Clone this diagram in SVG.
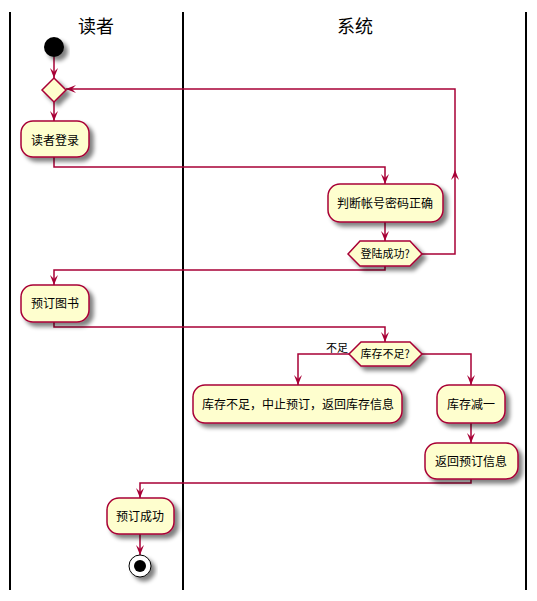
<svg xmlns="http://www.w3.org/2000/svg" width="537" height="601" viewBox="0 0 537 601">
<style>
.lane{stroke:#000;stroke-width:2;fill:none}
.title{font-family:"Noto Sans CJK SC","Liberation Sans",sans-serif;font-size:18px;fill:#000;text-anchor:middle}
.box{fill:#FEFECE;stroke:#A80036;stroke-width:1.5}
.t{font-family:"Noto Sans CJK SC","Liberation Sans",sans-serif;font-size:12px;fill:#000;text-anchor:middle}
.ts{font-family:"Noto Sans CJK SC","Liberation Sans",sans-serif;font-size:11px;fill:#000;text-anchor:middle}
.c{fill:none;stroke:#A80036;stroke-width:1.5}
</style>
<defs>
<filter id="sh" x="-20%" y="-20%" width="150%" height="160%">
<feGaussianBlur in="SourceAlpha" stdDeviation="2"/>
<feOffset dx="4" dy="4" result="o"/>
<feComponentTransfer><feFuncA type="linear" slope="0.5"/></feComponentTransfer>
<feMerge><feMergeNode/><feMergeNode in="SourceGraphic"/></feMerge>
</filter>
<marker id="ah" viewBox="0 0 10 8" refX="10" refY="4" markerWidth="10" markerHeight="8" markerUnits="userSpaceOnUse" orient="auto">
<path d="M0,0 L10,4 L0,8 L4,4 Z" fill="#A80036"/>
</marker>
</defs>
<rect width="537" height="601" fill="#fff"/>
<g id="lanes">
<line class="lane" x1="10" y1="12" x2="10" y2="590"/>
<line class="lane" x1="183" y1="12" x2="183" y2="590"/>
<line class="lane" x1="526" y1="12" x2="526" y2="590"/>
<text class="title" x="96" y="33">读者</text>
<text class="title" x="355" y="33">系统</text>
</g>
<g id="connectors">
<path class="c" d="M54,57 L54,78" marker-end="url(#ah)"/>
<path class="c" d="M54,102 L54,121" marker-end="url(#ah)"/>
<path class="c" d="M54,157 L54,167 L385,167 L385,184" marker-end="url(#ah)"/>
<path class="c" d="M385,222 L385,241" marker-end="url(#ah)"/>
<path class="c" d="M422,254 L455,254 L455,170" marker-end="url(#ah)"/>
<path class="c" d="M455,170 L455,89 L66,89" marker-end="url(#ah)"/>
<path class="c" d="M385,266 L385,270 L54,270 L54,285" marker-end="url(#ah)"/>
<path class="c" d="M54,322 L54,327 L385,327 L385,342" marker-end="url(#ah)"/>
<path class="c" d="M349,354 L298,354 L298,385" marker-end="url(#ah)"/>
<text class="ts" x="337" y="352">不足</text>
<path class="c" d="M422,354 L471,354 L471,385" marker-end="url(#ah)"/>
<path class="c" d="M471,423 L471,443" marker-end="url(#ah)"/>
<path class="c" d="M471,479 L471,483 L140,483 L140,498" marker-end="url(#ah)"/>
<path class="c" d="M140,534 L140,555" marker-end="url(#ah)"/>
</g>
<g id="start"><circle cx="54" cy="47" r="10" fill="#000" filter="url(#sh)"/></g>
<g id="merge"><polygon class="box" points="54,78 66,90 54,102 42,90" filter="url(#sh)"/></g>
<g id="login"><rect class="box" x="21" y="121" width="68" height="36" rx="12" filter="url(#sh)"/><text class="t" x="55" y="145">读者登录</text></g>
<g id="check"><rect class="box" x="328" y="184" width="115" height="38" rx="12" filter="url(#sh)"/><text class="t" x="385" y="208">判断帐号密码正确</text></g>
<g id="success"><polygon class="box" points="348,254 360,241 410,241 422,254 410,266 360,266" filter="url(#sh)"/><text class="ts" x="385" y="258">登陆成功?</text></g>
<g id="reserve"><rect class="box" x="21" y="285" width="68" height="37" rx="12" filter="url(#sh)"/><text class="t" x="55" y="308">预订图书</text></g>
<g id="stock"><polygon class="box" points="349,354 361,342 410,342 422,354 410,366 361,366" filter="url(#sh)"/><text class="ts" x="385" y="358">库存不足?</text></g>
<g id="insufficient"><rect class="box" x="193" y="385" width="209" height="38" rx="12" filter="url(#sh)"/><text class="t" x="298" y="409">库存不足，中止预订，返回库存信息</text></g>
<g id="decrease"><rect class="box" x="437" y="385" width="68" height="38" rx="12" filter="url(#sh)"/><text class="t" x="471" y="409">库存减一</text></g>
<g id="returninfo"><rect class="box" x="425" y="443" width="93" height="36" rx="12" filter="url(#sh)"/><text class="t" x="471" y="466">返回预订信息</text></g>
<g id="done"><rect class="box" x="107" y="498" width="67" height="36" rx="12" filter="url(#sh)"/><text class="t" x="140" y="521">预订成功</text></g>
<g id="end"><circle cx="140" cy="566" r="11" fill="#fff" stroke="#000" stroke-width="1" filter="url(#sh)"/><circle cx="140" cy="566" r="6" fill="#000"/></g>
</svg>
